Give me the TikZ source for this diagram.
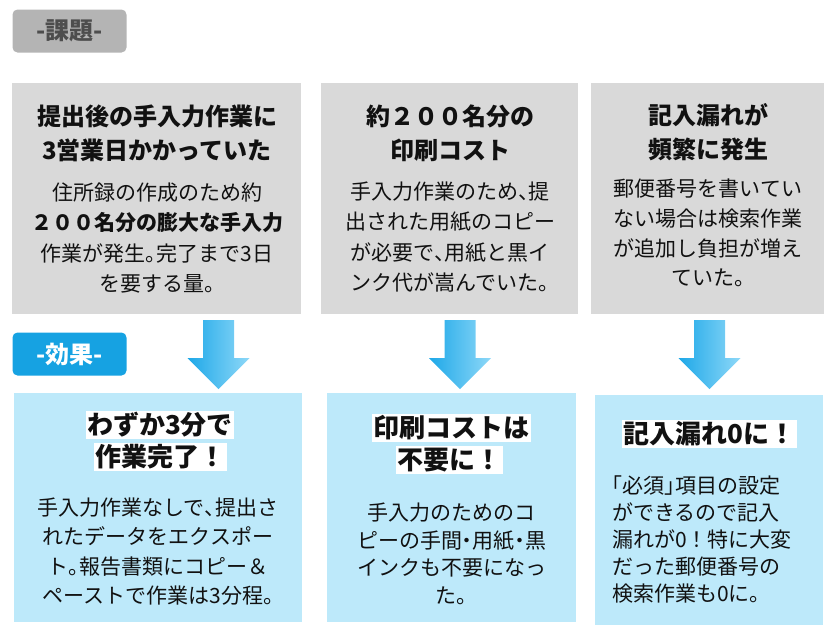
\documentclass[tikz,border=0pt]{standalone}
\usepackage{fontspec}
\setmainfont{Noto Sans CJK JP}
\newfontfamily\hp[RawFeature=+halt]{Noto Sans CJK JP}
\newcommand{\pc}[1]{{\hp #1}}
\usetikzlibrary{shadings}
\definecolor{probgray}{HTML}{D9D9D9}
\definecolor{effblue}{HTML}{BDE9FA}
\definecolor{labgray}{HTML}{B4B4B4}
\definecolor{labtext}{HTML}{4D4D4D}
\definecolor{labblue}{HTML}{16A2E2}
\definecolor{arrowdark}{HTML}{1EA8E8}
\definecolor{arrowlight}{HTML}{8ED8F8}
\definecolor{ink}{HTML}{111111}
\tikzset{
  probbox/.style={fill=probgray, draw=none},
  effbox/.style={fill=effblue, draw=none},
  tagbox/.style={rounded corners=5pt, draw=none, minimum width=114pt, minimum height=43pt, inner sep=0pt, font=\bfseries\fontsize{24}{26}\selectfont},
  ptitle/.style={align=center, inner sep=0pt, text=ink, font=\bfseries\fontsize{24}{34}\selectfont},
  etitle/.style={align=center, inner sep=1.5pt, fill=white, text=ink, font=\bfseries\fontsize{26}{32}\selectfont},
  pbody/.style={align=center, inner sep=0pt, text=ink, font=\fontsize{21}{30.5}\selectfont},
  ebody/.style={inner sep=0pt, text=ink},
}
\begin{document}
\begin{tikzpicture}[x=1pt,y=-1pt]
\useasboundingbox (0,0) rectangle (835,633);
% tags
\node[tagbox, fill=labgray, text=labtext] (tagA) at (69.5,31) {-課題-};
\node[tagbox, fill=labblue, text=white] (tagB) at (69.5,354) {-効果-};
% problem boxes
\path[probbox] (12,83) rectangle (301,314);
\path[probbox] (321,83) rectangle (578,314);
\path[probbox] (591,83) rectangle (824,314);
\node[ptitle] (p1t) at (157,133) {提出後の手入力作業に\\3営業日かかっていた};
\node[pbody] (p1b) at (157,238) {住所録の作成のため約\\\textbf{２００名分の膨大な手入力}\\作業が発生\pc{。}完了まで3日\\を要する量\pc{。}};
\node[ptitle] (p2t) at (450,133) {約２００名分の\\印刷コスト};
\node[pbody] (p2b) at (450,237) {手入力作業のため\pc{、}提\\出された用紙のコピー\\が必要で\pc{、}用紙と黒イ\\ンク代が嵩んでいた\pc{。}};
\node[ptitle] (p3t) at (708,132) {記入漏れが\\頻繁に発生};
\node[pbody, font=\fontsize{21}{29.7}\selectfont] (p3b) at (708,233) {郵便番号を書いてい\\ない場合は検索作業\\が追加し負担が増え\\ていた\pc{。}};
% effect boxes
\path[effbox] (14,393) rectangle (302,622);
\path[effbox] (327,393) rectangle (576,622);
\path[effbox] (595,395) rectangle (823,625);
\node[etitle] (e1a) at (160,425) {わずか3分で};
\node[etitle] (e1b) at (160,457) {作業完了！};
\node[ebody, align=center, font=\fontsize{21}{29.5}\selectfont] (e1c) at (158,551.5) {手入力作業なしで\pc{、}提出さ\\れたデータをエクスポー\\ト\pc{。}報告書類にコピー＆\\ペーストで作業は3分程\pc{。}};
\node[etitle] (e2a) at (451.5,428) {印刷コストは};
\node[etitle] (e2b) at (449,460) {不要に！};
\node[ebody, align=center, font=\fontsize{21}{27.5}\selectfont] (e2c) at (451.5,554) {手入力のためのコ\\ピーの手間\pc{・}用紙\pc{・}黒\\インクも不要になっ\\た\pc{。}};
\node[etitle] (e3a) at (709.5,434) {記入漏れ0に！};
\node[ebody, align=left, anchor=west, font=\fontsize{21}{27}\selectfont] (e3c) at (612,539) {\pc{「}必須\pc{」}項目の設定\\ができるので記入\\漏れが0！特に大変\\だった郵便番号の\\検索作業も0に\pc{。}};
% arrows
\foreach \cx/\nm in {218.5/a1, 460/a2, 709.5/a3}{
  \shade[left color=arrowdark, right color=arrowlight]
    (\cx-15.5,320) -- (\cx+15.5,320) -- (\cx+15.5,358) -- (\cx+31,358)
    -- (\cx,389) -- (\cx-31,358) -- (\cx-15.5,358) -- cycle;
}
\end{tikzpicture}
\end{document}
